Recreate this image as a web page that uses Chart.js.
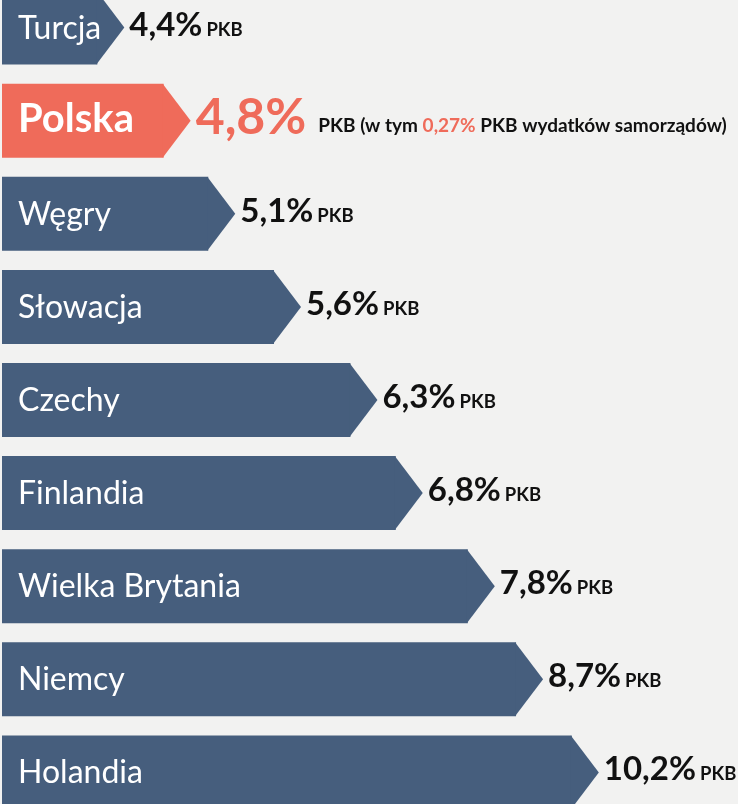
<!DOCTYPE html>
<html lang="pl">
<head>
<meta charset="utf-8">
<title>Wydatki na bezpieczeństwo publiczne (% PKB)</title>
<script src="https://cdn.jsdelivr.net/npm/chart.js@4/dist/chart.umd.min.js"></script>
<style>
  html, body { margin: 0; padding: 0; background: #f2f2f1; }
  .frame { position: relative; width: 738px; height: 804px; overflow: hidden; background: #f2f2f1; }
  .frame canvas { position: absolute; left: 0; top: -19px; }
</style>
</head>
<body>
<div class="frame">
  <canvas id="pkbChart" width="738" height="838"></canvas>
</div>
<script>
/* ---- data ---- */
const countries = ["Turcja", "Polska", "Węgry", "Słowacja", "Czechy", "Finlandia", "Wielka Brytania", "Niemcy", "Holandia"];
const spending = [4.4, 4.8, 5.1, 5.6, 6.3, 6.8, 7.8, 8.7, 10.2];
const localShare = 0.27; // Polska: część wydatków samorządów
const unit = "PKB";
const highlight = "Polska";

const NAVY = "#465e7d";
const CORAL = "#ef6b5a";
const INK = "#111111";
const TIP = 27;
const AXIS_MIN = 3.9;
const AXIS_MAX = 14;

const fmt = (v, d = 1) => v.toFixed(d).replace(".", ",") + "%";

// the infographic bars are not linear: saturating (exponential) scale
const RATE = 0.31;
const warp = (v) => -Math.exp(-RATE * v);
class SaturatingScale extends Chart.LinearScale {
  getPixelForValue(value) {
    const v = Math.max(value, this.min);
    const lo = warp(this.min);
    const hi = warp(this.max);
    return this.getPixelForDecimal((warp(v) - lo) / (hi - lo));
  }
  getValueForPixel(pixel) {
    const lo = warp(this.min);
    const hi = warp(this.max);
    const w = lo + this.getDecimalForPixel(pixel) * (hi - lo);
    return -Math.log(-w) / RATE;
  }
}
SaturatingScale.id = "saturating";
SaturatingScale.defaults = {};
Chart.register(SaturatingScale);

const arrowLabels = {
  id: "arrowLabels",
  afterDatasetsDraw(chart) {
    const { ctx } = chart;
    chart.getDatasetMeta(0).data.forEach((bar, i) => {
      const hot = countries[i] === highlight;
      const half = bar.height / 2;
      ctx.save();
      ctx.fillStyle = hot ? CORAL : NAVY;
      ctx.beginPath();
      ctx.moveTo(bar.x - 1, bar.y - half);
      ctx.lineTo(bar.x + TIP, bar.y);
      ctx.lineTo(bar.x - 1, bar.y + half);
      ctx.closePath();
      ctx.fill();

      ctx.textBaseline = "alphabetic";
      ctx.textAlign = "left";
      ctx.fillStyle = "#ffffff";
      ctx.font = hot ? "bold 40px Lato" : "32px Lato";
      ctx.fillText(countries[i], 18, bar.y + 11);

      let x = bar.x + TIP + 5;
      if (hot) {
        ctx.fillStyle = CORAL;
        ctx.font = "bold 50px Lato";
        ctx.fillText(fmt(spending[i]), x, bar.y + 13);
        x += ctx.measureText(fmt(spending[i])).width + 12;
        ctx.font = "bold 19px Lato";
        const parts = [
          [unit + " (w tym ", INK],
          [fmt(localShare, 2), CORAL],
          [" " + unit + " wydatków samorządów)", INK]
        ];
        parts.forEach(([txt, col]) => {
          ctx.fillStyle = col;
          ctx.fillText(txt, x, bar.y + 11);
          x += ctx.measureText(txt).width;
        });
      } else {
        ctx.fillStyle = INK;
        ctx.font = "bold 33px Lato";
        ctx.fillText(fmt(spending[i]), x, bar.y + 8);
        x += ctx.measureText(fmt(spending[i])).width + 4;
        ctx.font = "bold 18.5px Lato";
        ctx.fillText(unit, x, bar.y + 8);
      }
      ctx.restore();
    });
  }
};

new Chart(document.getElementById("pkbChart"), {
  type: "bar",
  data: {
    labels: countries,
    datasets: [{
      data: spending,
      base: AXIS_MIN,
      backgroundColor: countries.map((c) => (c === highlight ? CORAL : NAVY)),
      borderWidth: 0,
      barPercentage: 0.795,
      categoryPercentage: 1
    }]
  },
  options: {
    indexAxis: "y",
    responsive: false,
    animation: false,
    layout: { padding: { left: 2, right: 101, top: 0, bottom: 0 } },
    plugins: { legend: { display: false }, tooltip: { enabled: false } },
    scales: {
      x: { type: "saturating", min: AXIS_MIN, max: AXIS_MAX, display: false },
      y: { display: false }
    }
  },
  plugins: [arrowLabels]
});
</script>
</body>
</html>
